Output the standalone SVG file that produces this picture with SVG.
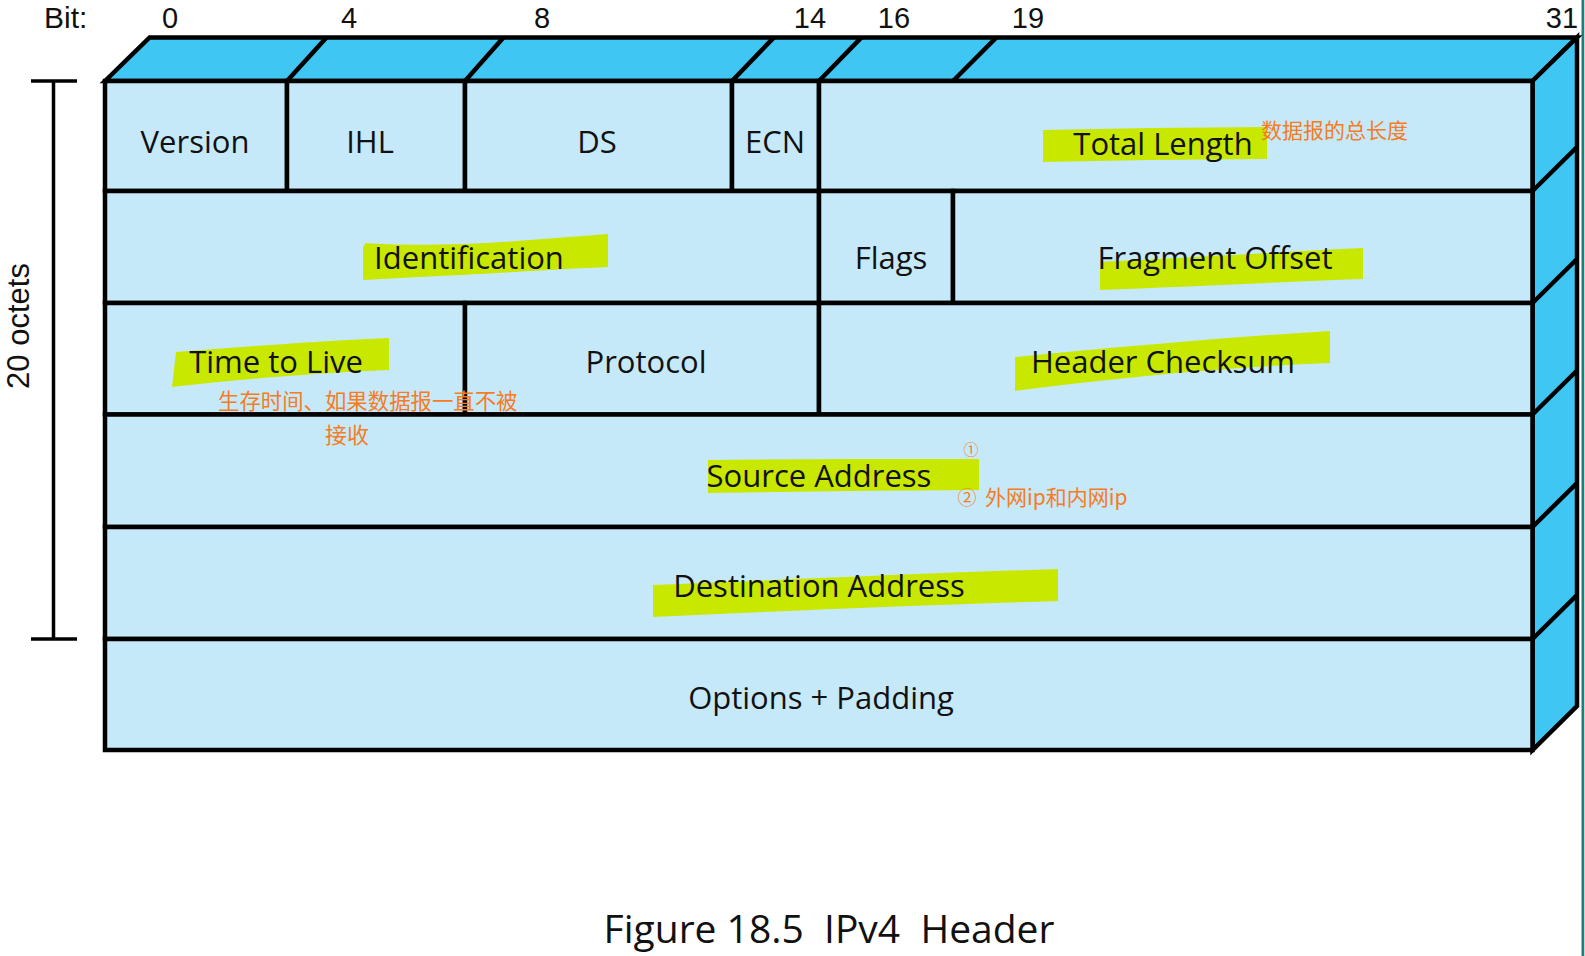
<svg xmlns="http://www.w3.org/2000/svg" width="1585" height="956" viewBox="0 0 1585 956">
  <style>
    .face { fill: #c6e9fa; stroke: #000; stroke-width: 4.5; stroke-linejoin: miter; }
    .side { fill: #40c6f2; stroke: #000; stroke-width: 4.5; stroke-linejoin: miter; }
    .edge { fill: none; stroke: #000; stroke-width: 4.5; }
    .lbl { font-family: "Open Sans", "Liberation Sans", sans-serif; font-size: 31px; fill: #111; text-anchor: middle; }
    .bit { font-family: "Liberation Sans", "Open Sans", sans-serif; font-size: 29px; fill: #111; text-anchor: middle; }
    .hl { fill: #c9e800; }
    .note { font-family: "Noto Sans CJK SC", "Noto Sans", sans-serif; font-weight: 400; fill: #f77b22; }
    .scale { stroke: #000; stroke-width: 3.5; fill: none; }
  </style>
  <rect x="0" y="0" width="1585" height="956" fill="#fff"/>
  <rect x="1581.5" y="0" width="2.8" height="956" fill="#1e7f78"/>

  <g id="bit-labels">
    <text class="bit" x="44" y="28" style="text-anchor:start;font-size:30px">Bit:</text>
    <text class="bit" x="170" y="28">0</text>
    <text class="bit" x="349" y="28">4</text>
    <text class="bit" x="542" y="28">8</text>
    <text class="bit" x="810" y="28">14</text>
    <text class="bit" x="894" y="28">16</text>
    <text class="bit" x="1028" y="28">19</text>
    <text class="bit" x="1562" y="28">31</text>
  </g>

  <g id="scale-bar">
    <line class="scale" x1="53.5" y1="81" x2="53.5" y2="639"/>
    <line class="scale" x1="31" y1="81" x2="77" y2="81"/>
    <line class="scale" x1="31" y1="639" x2="77" y2="639"/>
    <text transform="translate(28.5,326) rotate(-90)" style="font-family:'Liberation Sans','Open Sans',sans-serif;font-size:31px;fill:#111;text-anchor:middle">20 octets</text>
  </g>

  <g id="top-face">
    <polygon class="side" points="105,81 149.6,37.4 1577,37.4 1532.5,81"/>
    <line class="edge" x1="287" y1="81" x2="326.5" y2="37.4"/>
    <line class="edge" x1="465" y1="81" x2="503.5" y2="37.4"/>
    <line class="edge" x1="732" y1="81" x2="774" y2="37.4"/>
    <line class="edge" x1="819" y1="81" x2="861.5" y2="37.4"/>
    <line class="edge" x1="953" y1="81" x2="996.5" y2="37.4"/>
  </g>

  <g id="right-face">
    <polygon class="side" points="1532.5,81 1577,37.4 1577,706 1532.5,750"/>
    <line class="edge" x1="1532.5" y1="191" x2="1577" y2="147"/>
    <line class="edge" x1="1532.5" y1="303" x2="1577" y2="259"/>
    <line class="edge" x1="1532.5" y1="414.5" x2="1577" y2="370.5"/>
    <line class="edge" x1="1532.5" y1="527" x2="1577" y2="483"/>
    <line class="edge" x1="1532.5" y1="639" x2="1577" y2="595"/>
  </g>

  <g id="version">
    <rect class="face" x="105" y="81" width="182" height="110"/>
    <text class="lbl" x="195" y="153">Version</text>
  </g>
  <g id="ihl">
    <rect class="face" x="287" y="81" width="178" height="110"/>
    <text class="lbl" x="370" y="153">IHL</text>
  </g>
  <g id="ds">
    <rect class="face" x="465" y="81" width="267" height="110"/>
    <text class="lbl" x="597" y="153">DS</text>
  </g>
  <g id="ecn">
    <rect class="face" x="732" y="81" width="87" height="110"/>
    <text class="lbl" x="775" y="153">ECN</text>
  </g>
  <g id="total-length">
    <rect class="face" x="819" y="81" width="713.5" height="110"/>
    <path class="hl" d="M1043,130 L1150,128 L1267,127 L1267,159 L1150,160 L1043,162 Z"/>
    <text class="lbl" x="1163" y="155">Total Length</text>
    <text class="note" x="1261" y="138" style="font-size:21px">数据报的总长度</text>
  </g>

  <g id="identification">
    <rect class="face" x="105" y="191" width="714" height="112"/>
    <path class="hl" d="M366,243 C400,246 470,245 530,240 L608,234 L608,267 C560,269 470,275 420,277 L363,280 L363,247 Z"/>
    <text class="lbl" x="469" y="269">Identification</text>
  </g>
  <g id="flags">
    <rect class="face" x="819" y="191" width="134" height="112"/>
    <text class="lbl" x="891" y="269">Flags</text>
  </g>
  <g id="fragment-offset">
    <rect class="face" x="953" y="191" width="579.5" height="112"/>
    <path class="hl" d="M1100,262 C1180,258 1280,252 1363,248 L1363,279 C1280,282 1180,287 1100,290 Z"/>
    <text class="lbl" x="1215" y="269">Fragment Offset</text>
  </g>

  <g id="time-to-live">
    <rect class="face" x="105" y="303" width="360" height="111.5"/>
    <path class="hl" d="M176,352 C240,347 320,341 389,338 L389,370 C320,373 240,379 172,387 Z"/>
    <text class="lbl" x="276" y="373">Time to Live</text>
  </g>
  <g id="protocol">
    <rect class="face" x="465" y="303" width="354" height="111.5"/>
    <text class="lbl" x="646" y="373">Protocol</text>
  </g>
  <g id="header-checksum">
    <rect class="face" x="819" y="303" width="713.5" height="111.5"/>
    <path class="hl" d="M1015,357 C1120,347 1230,337 1330,331 L1330,363 C1230,367 1120,377 1015,391 Z"/>
    <text class="lbl" x="1163" y="373">Header Checksum</text>
  </g>

  <g id="source-address">
    <rect class="face" x="105" y="414.5" width="1427.5" height="112.5"/>
    <path class="hl" d="M708,460 L850,459 L979,459 L979,490 L850,491 L708,493 Z"/>
    <text class="lbl" x="819" y="487">Source Address</text>
    <text class="note" x="971" y="455" style="font-size:15px;text-anchor:middle">①</text>
    <text class="note" x="967" y="505" style="font-size:19px;text-anchor:middle">②</text>
    <text class="note" x="985" y="505" style="font-size:21px">外网ip和内网ip</text>
  </g>

  <g id="destination-address">
    <rect class="face" x="105" y="527" width="1427.5" height="112"/>
    <path class="hl" d="M653,585 C780,580 930,573 1058,569 L1058,601 C930,605 780,611 653,617 Z"/>
    <text class="lbl" x="819" y="597">Destination Address</text>
  </g>

  <g id="options-padding">
    <rect class="face" x="105" y="639" width="1427.5" height="111"/>
    <text class="lbl" x="821" y="709">Options + Padding</text>
  </g>

  <g id="ttl-note">
    <text class="note" x="218" y="409" style="font-size:21.4px">生存时间、如果数据报一直不被</text>
    <text class="note" x="325" y="443" style="font-size:22px">接收</text>
  </g>

  <g id="connectors"></g>

  <text x="829" y="943" xml:space="preserve" style="font-family:'Open Sans','Liberation Sans',sans-serif;font-size:39px;fill:#111;text-anchor:middle;white-space:pre">Figure 18.5  IPv4  Header</text>
</svg>
